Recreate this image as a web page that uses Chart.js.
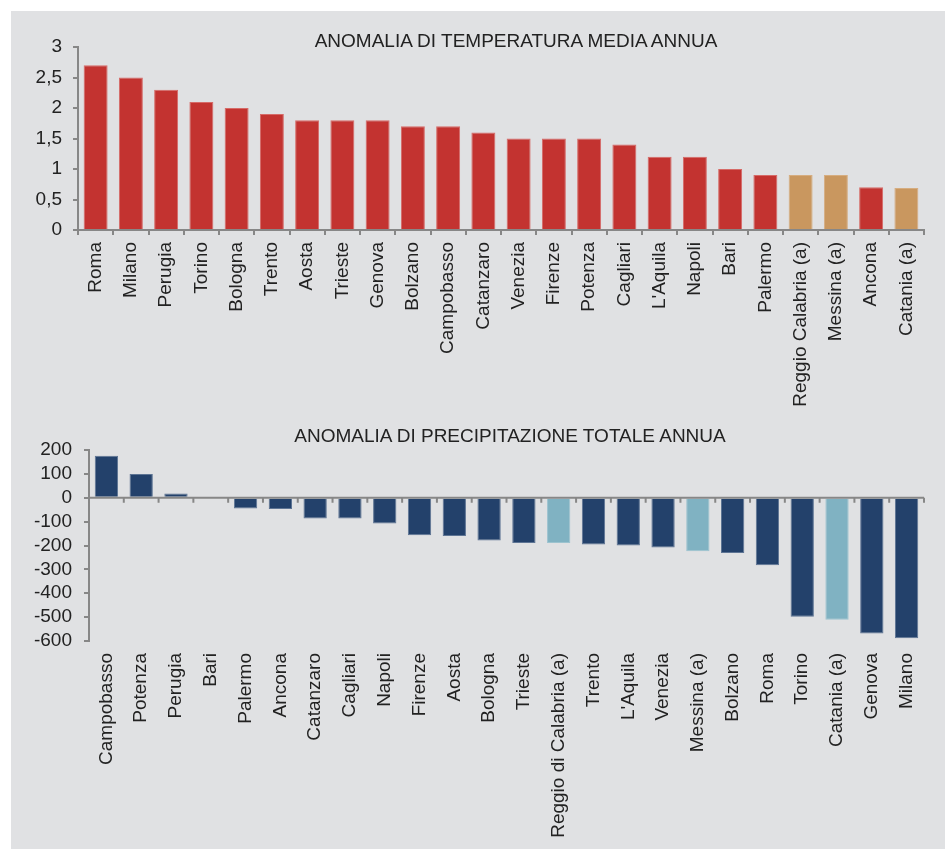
<!DOCTYPE html>
<html>
<head>
<meta charset="utf-8">
<script src="https://cdn.jsdelivr.net/npm/chart.js@4"></script>
<style>
  body { margin: 0; background: #fff; }
  #panel { position: absolute; left: 11px; top: 11px; width: 934px; height: 838px; background: #e0e1e3; }
  .box { position: absolute; left: 0; width: 934px; }
  #tempBox { top: 0; height: 405px; }
  #rainBox { top: 409px; height: 429px; }
  .title { position: absolute; font: 19px "Liberation Sans", Arial, sans-serif; color: #222;
           white-space: nowrap; transform: translate(-50%, -50%); }
</style>
</head>
<body>
<div id="panel">
  <div class="box" id="tempBox"><canvas id="tempChart" width="934" height="405"></canvas></div>
  <div class="box" id="rainBox"><canvas id="rainChart" width="934" height="429"></canvas></div>
  <div class="title" style="left:505px;top:30px">ANOMALIA DI TEMPERATURA MEDIA ANNUA</div>
  <div class="title" style="left:499px;top:425px">ANOMALIA DI PRECIPITAZIONE TOTALE ANNUA</div>
</div>
<script>
'use strict';

const tempCities = ['Roma', 'Milano', 'Perugia', 'Torino', 'Bologna', 'Trento', 'Aosta', 'Trieste',
  'Genova', 'Bolzano', 'Campobasso', 'Catanzaro', 'Venezia', 'Firenze', 'Potenza', 'Cagliari',
  "L'Aquila", 'Napoli', 'Bari', 'Palermo', 'Reggio Calabria (a)', 'Messina (a)', 'Ancona', 'Catania (a)'];
const tempValues = [2.7, 2.5, 2.3, 2.1, 2.0, 1.9, 1.8, 1.8, 1.8, 1.7, 1.7, 1.6,
  1.5, 1.5, 1.5, 1.4, 1.2, 1.2, 1.0, 0.9, 0.9, 0.9, 0.7, 0.69];

const rainCities = ['Campobasso', 'Potenza', 'Perugia', 'Bari', 'Palermo', 'Ancona', 'Catanzaro',
  'Cagliari', 'Napoli', 'Firenze', 'Aosta', 'Bologna', 'Trieste', 'Reggio di Calabria (a)', 'Trento',
  "L'Aquila", 'Venezia', 'Messina (a)', 'Bolzano', 'Roma', 'Torino', 'Catania (a)', 'Genova', 'Milano'];
const rainValues = [176, 100, 18, 0, -45, -47, -87, -87, -108, -157, -160, -179,
  -190, -190, -196, -200, -208, -224, -231, -283, -498, -511, -569, -588];

const tempTicks = [0, 0.5, 1, 1.5, 2, 2.5, 3];
const rainTicks = [-600, -500, -400, -300, -200, -100, 0, 100, 200];

const axisColor = '#878787';

Chart.defaults.font.family = '"Liberation Sans", Arial, sans-serif';
Chart.defaults.font.size = 19;
Chart.defaults.color = '#222';

// cities marked (a) get the lighter colour
function isMarked(name) {
  return name.indexOf('(a)') !== -1;
}

function fixWidth(w) {
  return function(scale) { scale.width = w; };
}
function fixHeight(h) {
  return function(scale) { scale.height = h; };
}

const zeroLine = {
  id: 'zeroLine',
  afterDatasetsDraw(chart) {
    const {ctx, scales: {x, y}} = chart;
    const y0 = y.getPixelForValue(0);
    const n = chart.data.labels.length;
    const step = (x.right - x.left) / n;
    ctx.save();
    ctx.strokeStyle = axisColor;
    ctx.lineWidth = 2;
    ctx.beginPath();
    ctx.moveTo(x.left, y0);
    ctx.lineTo(x.right, y0);
    for (let i = 0; i <= n; i++) {
      ctx.moveTo(x.left + i * step, y0);
      ctx.lineTo(x.left + i * step, y0 + 5);
    }
    ctx.stroke();
    ctx.restore();
  }
};

function buildTemp() {
  new Chart(document.getElementById('tempChart'), {
    type: 'bar',
    data: {
      labels: tempCities,
      datasets: [{
        data: tempValues,
        backgroundColor: tempCities.map(c => isMarked(c) ? '#c9975f' : '#c33330'),
        borderColor: tempCities.map(c => isMarked(c) ? '#d6ad80' : '#d66a67'),
        borderWidth: 1,
        barPercentage: 0.68,
        categoryPercentage: 1
      }]
    },
    options: {
      responsive: false,
      animation: false,
      devicePixelRatio: 1,
      layout: { padding: { top: 36, right: 21, bottom: 0, left: 0 } },
      plugins: { legend: { display: false }, tooltip: { enabled: false } },
      scales: {
        x: {
          afterFit: fixHeight(186),
          border: { color: axisColor, width: 2 },
          grid: { drawOnChartArea: false, color: axisColor, lineWidth: 2, tickLength: 5 },
          ticks: { autoSkip: false, minRotation: 90, maxRotation: 90, padding: 7 }
        },
        y: {
          min: 0,
          max: 3,
          afterFit: fixWidth(67),
          afterBuildTicks: scale => { scale.ticks = tempTicks.map(v => ({value: v})); },
          border: { color: axisColor, width: 2 },
          grid: { drawOnChartArea: false, color: axisColor, lineWidth: 2, tickLength: 5 },
          ticks: { autoSkip: false, padding: 11, callback: v => String(v).replace('.', ',') }
        }
      }
    }
  });
}

function buildRain() {
  new Chart(document.getElementById('rainChart'), {
    type: 'bar',
    data: {
      labels: rainCities,
      datasets: [{
        data: rainValues,
        backgroundColor: rainCities.map(c => isMarked(c) ? '#80b2c2' : '#23416b'),
        borderColor: rainCities.map(c => isMarked(c) ? '#9cc3cf' : '#5d7494'),
        borderWidth: 1,
        barPercentage: 0.67,
        categoryPercentage: 1
      }]
    },
    options: {
      responsive: false,
      animation: false,
      devicePixelRatio: 1,
      layout: { padding: { top: 30, right: 21, bottom: 0, left: 0 } },
      plugins: { legend: { display: false }, tooltip: { enabled: false } },
      scales: {
        x: {
          afterFit: fixHeight(208),
          border: { display: false },
          grid: { display: false, drawTicks: false },
          ticks: { autoSkip: false, minRotation: 90, maxRotation: 90, padding: 12 }
        },
        y: {
          min: -600,
          max: 200,
          afterFit: fixWidth(78),
          afterBuildTicks: scale => { scale.ticks = rainTicks.map(v => ({value: v})); },
          border: { color: axisColor, width: 2 },
          grid: { drawOnChartArea: false, color: axisColor, lineWidth: 2, tickLength: 5 },
          ticks: { autoSkip: false, padding: 12 }
        }
      }
    },
    plugins: [zeroLine]
  });
}

buildTemp();
buildRain();
</script>
</body>
</html>
